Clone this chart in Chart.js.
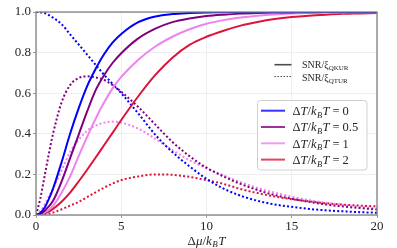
<!DOCTYPE html>
<html><head><meta charset="utf-8">
<script src="https://cdn.jsdelivr.net/npm/chart.js@4/dist/chart.umd.min.js"></script>
<style>html,body{margin:0;padding:0;background:#fff;}#wrap{width:397px;height:248px;}</style>
</head><body><div id="wrap"><canvas id="c" width="397" height="248"></canvas></div>
<script>
// x values (Δμ/k_BT)
const xValues = [0,0.25,0.5,0.75,1,1.5,2,2.5,3,3.5,4,4.5,5,6,7,8,9,10,11,12,13,14,15,16,17,18,19,20];
const deltaTLabels = ['0', '0.5', '1', '2'];
const xTicks = [0, 5, 10, 15, 20];
const yTicks = [0, 0.2, 0.4, 0.6, 0.8, 1.0];
// SNR/ξ_QKUR (solid)
const qkurDT0  = [0,0.01,0.035,0.078,0.13,0.26,0.40,0.525,0.635,0.72,0.793,0.85,0.892,0.95,0.978,0.99,0.995,0.998,0.999,1,1,1,1,1,1,1,1,1];
const qkurDT05 = [0,0.005,0.02,0.042,0.07,0.165,0.28,0.395,0.51,0.615,0.69,0.75,0.797,0.87,0.918,0.95,0.968,0.98,0.987,0.992,0.995,0.997,0.998,0.999,0.9995,1,1,1];
const qkurDT1  = [0,0.003,0.012,0.026,0.045,0.11,0.19,0.29,0.385,0.475,0.555,0.625,0.68,0.765,0.83,0.878,0.915,0.942,0.96,0.973,0.982,0.988,0.992,0.995,0.997,0.998,0.999,0.999];
const qkurDT2  = [0,0.002,0.008,0.017,0.03,0.065,0.11,0.165,0.223,0.283,0.345,0.406,0.468,0.585,0.69,0.775,0.838,0.878,0.908,0.933,0.951,0.965,0.975,0.982,0.987,0.991,0.993,0.995];
// SNR/ξ_QTUR (dotted)
const qturDT0  = [1,0.999,0.995,0.985,0.972,0.94,0.89,0.84,0.79,0.74,0.69,0.645,0.6,0.5,0.395,0.31,0.24,0.178,0.13,0.095,0.07,0.052,0.04,0.03,0.023,0.018,0.014,0.011];
const qturDT05 = [0,0.08,0.19,0.30,0.40,0.555,0.64,0.675,0.683,0.678,0.665,0.64,0.607,0.532,0.445,0.36,0.29,0.233,0.19,0.153,0.123,0.098,0.08,0.065,0.052,0.042,0.034,0.027];
const qturDT1  = [0,0.02,0.05,0.09,0.13,0.22,0.31,0.37,0.415,0.44,0.455,0.46,0.455,0.425,0.375,0.32,0.27,0.23,0.195,0.162,0.133,0.11,0.09,0.074,0.06,0.05,0.041,0.033];
const qturDT2  = [0,0.0005,0.002,0.006,0.012,0.028,0.046,0.065,0.088,0.112,0.135,0.155,0.172,0.19,0.2,0.198,0.188,0.172,0.153,0.128,0.108,0.091,0.078,0.067,0.058,0.051,0.046,0.042];

const colors = ['#0000ff', '#800080', '#ee82ee', '#dc143c'];
const solidSeries = [qkurDT0, qkurDT05, qkurDT1, qkurDT2];
const dottedSeries = [qturDT0, qturDT05, qturDT1, qturDT2];

const pts = arr => arr.map((v, i) => ({x: xValues[i], y: v}));
const datasets = [];
solidSeries.forEach((s, i) => datasets.push({
  label: 'QKUR ΔT/kBT = ' + deltaTLabels[i], data: pts(s), borderColor: colors[i],
  borderWidth: 2, pointRadius: 0, cubicInterpolationMode: 'monotone', fill: false
}));
dottedSeries.forEach((s, i) => datasets.push({
  label: 'QTUR ΔT/kBT = ' + deltaTLabels[i], data: pts(s), borderColor: colors[i],
  borderWidth: 2, borderDash: [2, 2.2], pointRadius: 0, cubicInterpolationMode: 'monotone', fill: false
}));

const SERIF = '"Liberation Serif", "DejaVu Serif", serif';
function rich(ctx, parts, x, y) {
  let cx = x;
  parts.forEach(p => {
    ctx.font = p[1];
    ctx.fillText(p[0], cx, y + (p[2] || 0));
    cx += ctx.measureText(p[0]).width + (p[3] || 0);
  });
  return cx;
}
function richWidth(ctx, parts) {
  let w = 0;
  parts.forEach(p => { ctx.font = p[1]; w += ctx.measureText(p[0]).width + (p[3] || 0); });
  return w;
}

const deco = {
  id: 'deco',
  afterDraw(chart) {
    const {ctx, chartArea: a} = chart;
    ctx.save();
    // frame
    ctx.strokeStyle = '#808080'; ctx.lineWidth = 1.3; ctx.setLineDash([]);
    ctx.strokeRect(a.left, a.top, a.right - a.left, a.bottom - a.top);
    ctx.fillStyle = '#262626';
    ctx.textBaseline = 'alphabetic';
    // x axis title Δμ/k_BT
    const it = 'italic 13px ' + SERIF, up = '13px ' + SERIF, sub = 'italic 9px ' + SERIF;
    const tparts = [['Δ', up], ['μ', it], ['/', up], ['k', it, 0, 0.5], ['B', sub, 2.5, 0.3], ['T', it]];
    const tw = richWidth(ctx, tparts);
    rich(ctx, tparts, (a.left + a.right) / 2 - tw / 2, 244.5);
    // legend 1 (line styles)
    ctx.strokeStyle = '#4d4d4d'; ctx.lineWidth = 1.6;
    ctx.beginPath(); ctx.moveTo(274.5, 64.7); ctx.lineTo(291.5, 64.7); ctx.stroke();
    ctx.setLineDash([1.5, 1.5]); ctx.lineWidth = 1.2;
    ctx.beginPath(); ctx.moveTo(274.5, 76.5); ctx.lineTo(291.5, 76.5); ctx.stroke();
    ctx.setLineDash([]);
    const lf = '10px ' + SERIF, sf = '7px ' + SERIF;
    rich(ctx, [['SNR/ξ', lf], ['QKUR', sf, 1.8]], 302, 67.8);
    rich(ctx, [['SNR/ξ', lf], ['QTUR', sf, 1.8]], 302, 81);
    // legend 2 (colors)
    ctx.fillStyle = 'rgba(255,255,255,0.85)';
    ctx.strokeStyle = '#d0d0d0'; ctx.lineWidth = 1;
    ctx.beginPath(); ctx.roundRect(257.5, 100.5, 109.5, 69.5, 3); ctx.fill(); ctx.stroke();
    const rows = [110.7, 127, 143.3, 159.6];
    const m = 'italic 12.5px ' + SERIF, u = '12.5px ' + SERIF, s2 = 'italic 8.5px ' + SERIF;
    rows.forEach((ry, i) => {
      ctx.strokeStyle = colors[i]; ctx.globalAlpha = 0.8; ctx.lineWidth = 2;
      ctx.beginPath(); ctx.moveTo(261, ry); ctx.lineTo(285, ry); ctx.stroke();
      ctx.globalAlpha = 1; ctx.fillStyle = '#262626';
      rich(ctx, [['Δ', u], ['T', m], ['/', u], ['k', m, 0, 0.5], ['B', s2, 2.5, 0.3], ['T', m, 0, 3], ['=', u, 0, 3], [deltaTLabels[i], u]], 292.5, ry + 4.4);
    });
    ctx.restore();
  }
};

new Chart(document.getElementById('c'), {
  type: 'line',
  data: {datasets},
  plugins: [deco],
  options: {
    responsive: false, animation: false, devicePixelRatio: 1,
    layout: {padding: {top: 12, right: 20, left: 0, bottom: 0}},
    plugins: {legend: {display: false}, tooltip: {enabled: false}},
    scales: {
      x: {
        type: 'linear', min: 0, max: 20,
        afterBuildTicks: sc => { sc.ticks = xTicks.map(v => ({value: v})); },
        afterFit: sc => { sc.height = 33; },
        ticks: {color: '#262626', font: {family: SERIF, size: 13}, padding: 1, maxRotation: 0,
          callback: v => String(v)},
        grid: {color: '#ebebeb', lineWidth: 0.8, tickLength: 3, tickColor: '#808080'},
        border: {display: false}
      },
      y: {
        type: 'linear', min: 0, max: 1,
        afterBuildTicks: sc => { sc.ticks = yTicks.map(v => ({value: v})); },
        afterFit: sc => { sc.width = 36; },
        ticks: {color: '#262626', font: {family: SERIF, size: 13}, padding: 2,
          callback: v => Number(v).toFixed(1)},
        grid: {color: '#ebebeb', lineWidth: 0.8, tickLength: 3, tickColor: '#808080'},
        border: {display: false}
      }
    }
  }
});
</script></body></html>
